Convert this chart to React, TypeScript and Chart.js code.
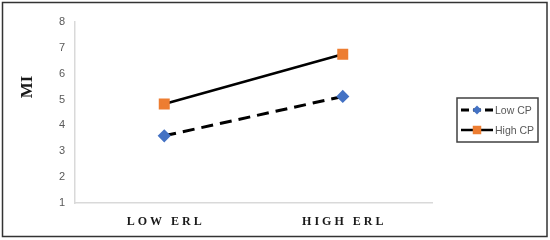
import React, { useEffect, useRef } from "react";
import { Chart, registerables } from "chart.js";

Chart.register(...registerables);

const categories = ["LOW ERL", "HIGH ERL"];
const lowCP = [3.6, 5.12];
const highCP = [4.83, 6.75];
const yTicks = [1, 2, 3, 4, 5, 6, 7, 8];
const seriesNames = ["Low CP", "High CP"];
const yTitle = "MI";

function marker(ctx: CanvasRenderingContext2D, style: string, r: number, x: number, y: number, color: string) {
  ctx.fillStyle = color;
  ctx.beginPath();
  if (style === "rectRot") {
    ctx.moveTo(x, y - r);
    ctx.lineTo(x + r, y);
    ctx.lineTo(x, y + r);
    ctx.lineTo(x - r, y);
    ctx.closePath();
  } else {
    const s = Math.SQRT1_2 * r;
    ctx.rect(x - s, y - s, 2 * s, 2 * s);
  }
  ctx.fill();
}

const overlay = {
  id: "overlay",
  afterDraw(chart: any) {
    const ctx = chart.ctx;
    const xs = chart.scales.x;
    ctx.save();
    // x labels with letter spacing
    ctx.font = "bold 12px 'Liberation Serif'";
    ctx.fillStyle = "#1a1a1a";
    ctx.textBaseline = "middle";
    ctx.textAlign = "left";
    (ctx as any).letterSpacing = "3px";
    categories.forEach((c, i) => {
      const px = xs.getPixelForValue(i);
      const w = ctx.measureText(c).width - 3;
      ctx.fillText(c, px - w / 2, 222);
    });
    (ctx as any).letterSpacing = "0px";
    // y title
    ctx.save();
    ctx.translate(28, 87);
    ctx.rotate(-Math.PI / 2);
    ctx.font = "bold 17px 'Liberation Serif'";
    ctx.textAlign = "center";
    ctx.textBaseline = "middle";
    ctx.fillText(yTitle, 0, 0);
    ctx.restore();
    // legend
    const lx = 457, ly = 98, lw = 81, lh = 44;
    ctx.strokeStyle = "#404040";
    ctx.lineWidth = 1.5;
    ctx.strokeRect(lx, ly, lw, lh);
    const rows = [110, 130];
    chart.data.datasets.forEach((ds: any, i: number) => {
      const y = rows[i];
      ctx.save();
      ctx.strokeStyle = ds.borderColor;
      ctx.lineWidth = ds.borderWidth;
      ctx.setLineDash(i === 0 ? [8, 4] : []);
      ctx.beginPath();
      ctx.moveTo(461, y);
      ctx.lineTo(493, y);
      ctx.stroke();
      ctx.restore();
      marker(ctx, ds.pointStyle, ds.pointRadius, 477, y, ds.pointBackgroundColor);
      ctx.font = "10.5px 'Liberation Sans'";
      ctx.fillStyle = "#595959";
      ctx.textAlign = "left";
      ctx.textBaseline = "middle";
      ctx.fillText(seriesNames[i], 495, y + 1);
    });
    // outer border
    ctx.strokeStyle = "#333";
    ctx.lineWidth = 1.5;
    ctx.strokeRect(2.5, 2.5, 544.5, 234);
    ctx.restore();
  },
};

export default function App() {
  const ref = useRef<HTMLCanvasElement>(null);
  useEffect(() => {
    if (!ref.current) return;
    const chart = new Chart(ref.current, {
      type: "line",
      data: {
        labels: categories,
        datasets: [
          {
            label: seriesNames[0],
            data: lowCP,
            borderColor: "#000000",
            borderWidth: 3,
            borderDash: [12, 7],
            pointStyle: "rectRot",
            pointRadius: 4.5,
            pointBackgroundColor: "#4472C4",
            pointBorderColor: "#4472C4",
            fill: false,
          },
          {
            label: seriesNames[1],
            data: highCP,
            borderColor: "#000000",
            borderWidth: 2.5,
            pointStyle: "rect",
            pointRadius: 6,
            pointBackgroundColor: "#ED7D31",
            pointBorderColor: "#ED7D31",
            fill: false,
          },
        ],
      },
      options: {
        responsive: false,
        animation: false,
        layout: { padding: { top: 22, right: 118, left: 0, bottom: 0 } },
        plugins: { legend: { display: false }, tooltip: { enabled: false }, title: { display: false } },
        scales: {
          x: {
            type: "category",
            offset: true,
            grid: { display: false },
            border: { display: true, color: "#d9d9d9", width: 1.5 },
            ticks: { display: false },
            afterFit: (s: any) => { s.height = 37; },
          },
          y: {
            min: 1,
            max: 8,
            grid: { display: false, drawTicks: false },
            border: { display: true, color: "#d9d9d9", width: 1.5 },
            afterBuildTicks: (s: any) => { s.ticks = yTicks.map((v) => ({ value: v })); },
            ticks: {
              padding: 10,
              color: "#595959",
              font: { family: "'Liberation Sans'", size: 11 },
            },
            afterFit: (s: any) => { s.width = 75; },
          },
        },
      },
      plugins: [overlay],
    });
    return () => chart.destroy();
  }, []);
  return (
    <div style={{ position: "fixed", left: 0, top: 0, width: 550, height: 240, background: "#fff" }}>
      <canvas ref={ref} width={550} height={240} />
    </div>
  );
}
